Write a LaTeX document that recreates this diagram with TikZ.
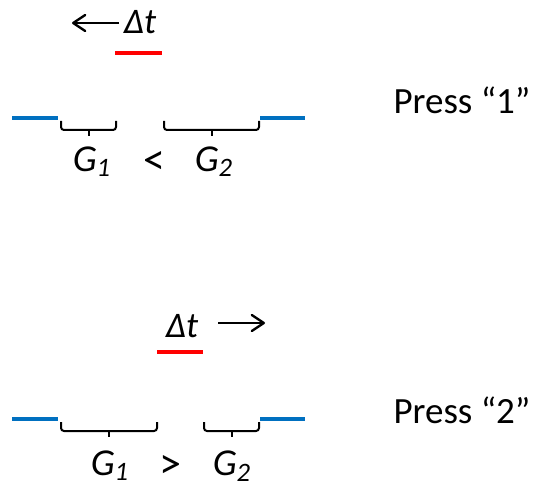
\documentclass[tikz,border=0pt]{standalone}
\usepackage{fontspec}
\setmainfont{Carlito}
\usetikzlibrary{arrows.meta,calc}
\definecolor{gapblue}{RGB}{0,112,192}
\definecolor{shiftred}{RGB}{255,0,0}
\tikzset{
	gap/.style={gapblue,line width=2pt},
	probe/.style={shiftred,line width=2pt},
	gbrace/.style={line width=1pt,rounded corners=1.5pt},
	glabel/.style={font=\fontsize{19}{22}\selectfont\itshape},
	cmp/.style={font=\fontsize{22}{24}\selectfont},
	dlabel/.style={font=\fontsize{18}{22}\selectfont\itshape},
	movearrow/.style={-{Straight Barb[length=6pt,width=8pt,round]},line width=1.2pt},
	press/.style={font=\fontsize{18.5}{22}\selectfont}
}
% flat bracket under a gap, with a tick in its middle
\newcommand{\gapbrace}[2]{%
	\draw[gbrace] (#1) -- ++(0,9) -| (#2);
	\draw[gbrace] ($(#1)!0.5!(#2)+(0,9)$) -- ++(0,6);
}
\begin{document}
\begin{tikzpicture}[x=0.5pt,y=-0.5pt]
		\useasboundingbox (0,0) rectangle (535,486);
		% Upper trial: probe moved to the left
		\coordinate (A1) at (12,118);
		\coordinate (B1) at (58,118);
		\coordinate (C1) at (260,118);
		\coordinate (D1) at (305,118);
		\coordinate (P1) at (115,53);
		\coordinate (Q1) at (162,53);
		\draw[gap] (A1)--(B1);
		\draw[gap] (C1)--(D1);
		\draw[probe] (P1)--(Q1);
		\node[dlabel] (dt1) at (140,22) {Δt};
		\coordinate (S1) at (119,23);
		\coordinate (E1) at (72,23);
		\draw[movearrow] (S1)--(E1);
		% Gaps
		\coordinate (G1a) at (61,121);
		\coordinate (G1b) at (116,121);
		\coordinate (G2a) at (164,121);
		\coordinate (G2b) at (259,121);
		\gapbrace{G1a}{G1b}
		\gapbrace{G2a}{G2b}
		\node[glabel] (ga1) at (92,162) {G\textsubscript{1}};
		\node[cmp] (cmp1) at (154,163) {<};
		\node[glabel] (gb1) at (214,162) {G\textsubscript{2}};
		\node[press] (key1) at (462,100) {Press “1”};
		% Lower trial: probe moved to the right
		\coordinate (A2) at (12,419);
		\coordinate (B2) at (58,419);
		\coordinate (C2) at (260,419);
		\coordinate (D2) at (305,419);
		\coordinate (P2) at (157,352);
		\coordinate (Q2) at (203,352);
		\draw[gap] (A2)--(B2);
		\draw[gap] (C2)--(D2);
		\draw[probe] (P2)--(Q2);
		\node[dlabel] (dt2) at (182,326) {Δt};
		\coordinate (S2) at (218,323);
		\coordinate (E2) at (265,323);
		\draw[movearrow] (S2)--(E2);
		% Gaps
		\coordinate (G3a) at (61,422);
		\coordinate (G3b) at (157,422);
		\coordinate (G4a) at (204,422);
		\coordinate (G4b) at (259,422);
		\gapbrace{G3a}{G3b}
		\gapbrace{G4a}{G4b}
		\node[glabel] (ga2) at (110,466) {G\textsubscript{1}};
		\node[cmp] (cmp2) at (170,467) {>};
		\node[glabel] (gb2) at (232,466) {G\textsubscript{2}};
		\node[press] (key2) at (462,410) {Press “2”};
\end{tikzpicture}
\end{document}
